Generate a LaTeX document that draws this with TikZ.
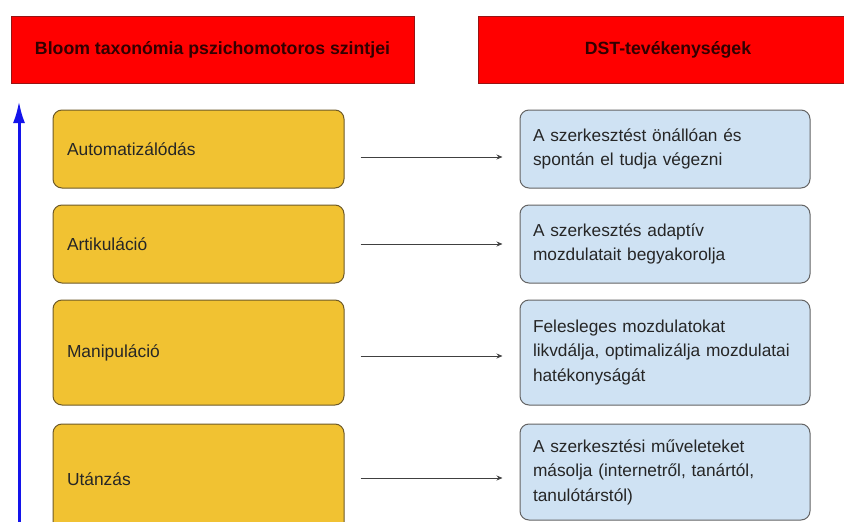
\documentclass[tikz,border=0pt]{standalone}
\usepackage{fontspec}
\setmainfont{Liberation Sans}
\usetikzlibrary{arrows.meta}
\definecolor{hdrred}{RGB}{255,0,0}
\definecolor{hdrline}{RGB}{150,20,20}
\definecolor{hdrtext}{RGB}{50,0,0}
\definecolor{lvlfill}{RGB}{241,194,50}
\definecolor{lvlline}{RGB}{110,90,40}
\definecolor{actfill}{RGB}{207,226,243}
\definecolor{actline}{RGB}{100,100,100}
\definecolor{axisblue}{RGB}{20,20,235}
\tikzset{
  header/.style={draw=hdrline, line width=1pt, fill=hdrred, minimum height=67pt,
    inner sep=0pt, font=\fontsize{17.7}{20}\selectfont\bfseries, text=hdrtext},
  level/.style={draw=lvlline, line width=1pt, fill=lvlfill, rounded corners=9pt,
    minimum width=291pt, text width=263pt, inner xsep=14pt, align=left,
    font=\fontsize{17.4}{24.5}\selectfont, text=black!85},
  activity/.style={draw=actline, line width=1pt, fill=actfill, rounded corners=9pt,
    minimum width=290pt, text width=264pt, inner xsep=13pt, align=left,
    font=\fontsize{17.3}{24.5}\selectfont, text=black!85},
  link/.style={draw=black!75, line width=0.9pt, -{Stealth[length=6pt,width=5pt]},
    shorten <=16pt, shorten >=17pt}
}
\begin{document}
\begin{tikzpicture}[x=1pt,y=-1pt]
  \useasboundingbox (0,0) rectangle (844,522);
  \fill[white] (0,0) rectangle (844,522);
  \begin{scope}
    \clip (0,0) rectangle (844,522);
    % column headers
    \node[header, minimum width=403pt] (h1) at (212.5,49.5) {Bloom taxonómia pszichomotoros szintjei};
    \node[header, minimum width=380pt] (h2) at (668,49.5) {DST-tevékenységek};
    % levels of the psychomotor domain
    \node[level, minimum height=78pt] (l1) at (198.5,149) {Automatizálódás};
    \node[level, minimum height=78pt] (l2) at (198.5,244) {Artikuláció};
    \node[level, minimum height=105pt] (l3) at (198.5,352.5) {Manipuláció};
    \node[level, minimum height=110pt] (l4) at (198.5,479) {Utánzás};
    % matching activities
    \node[activity, minimum height=78pt] (a1) at (665,149) {A szerkesztést önállóan és\\spontán el tudja végezni};
    \node[activity, minimum height=78pt] (a2) at (665,244) {A szerkesztés adaptív\\mozdulatait begyakorolja};
    \node[activity, minimum height=105pt] (a3) at (665,352.5) {Felesleges mozdulatokat\\likvdálja, optimalizálja mozdulatai\\hatékonyságát};
    \node[activity, minimum height=96pt] (a4) at (665,472) {A szerkesztési műveleteket\\másolja (internetről, tanártól,\\tanulótárstól)};
    % level-to-activity links
    \draw[link] ([yshift=-8pt]l1.east) -- ([yshift=-8pt]a1.west);
    \draw[link] (l2.east) -- (a2.west);
    \draw[link] ([yshift=-3.5pt]l3.east) -- ([yshift=-3.5pt]a3.west);
    \draw[link] ([yshift=1pt]l4.east) -- ([yshift=1pt]l4.east -| a4.west);
    % rising axis
    \coordinate (axbottom) at (19,530);
    \coordinate (axtop) at (19,101);
    \draw[axisblue, line width=3pt, -{Latex[length=22pt,width=12pt]}] (axbottom) -- (axtop);
  \end{scope}
\end{tikzpicture}
\end{document}
